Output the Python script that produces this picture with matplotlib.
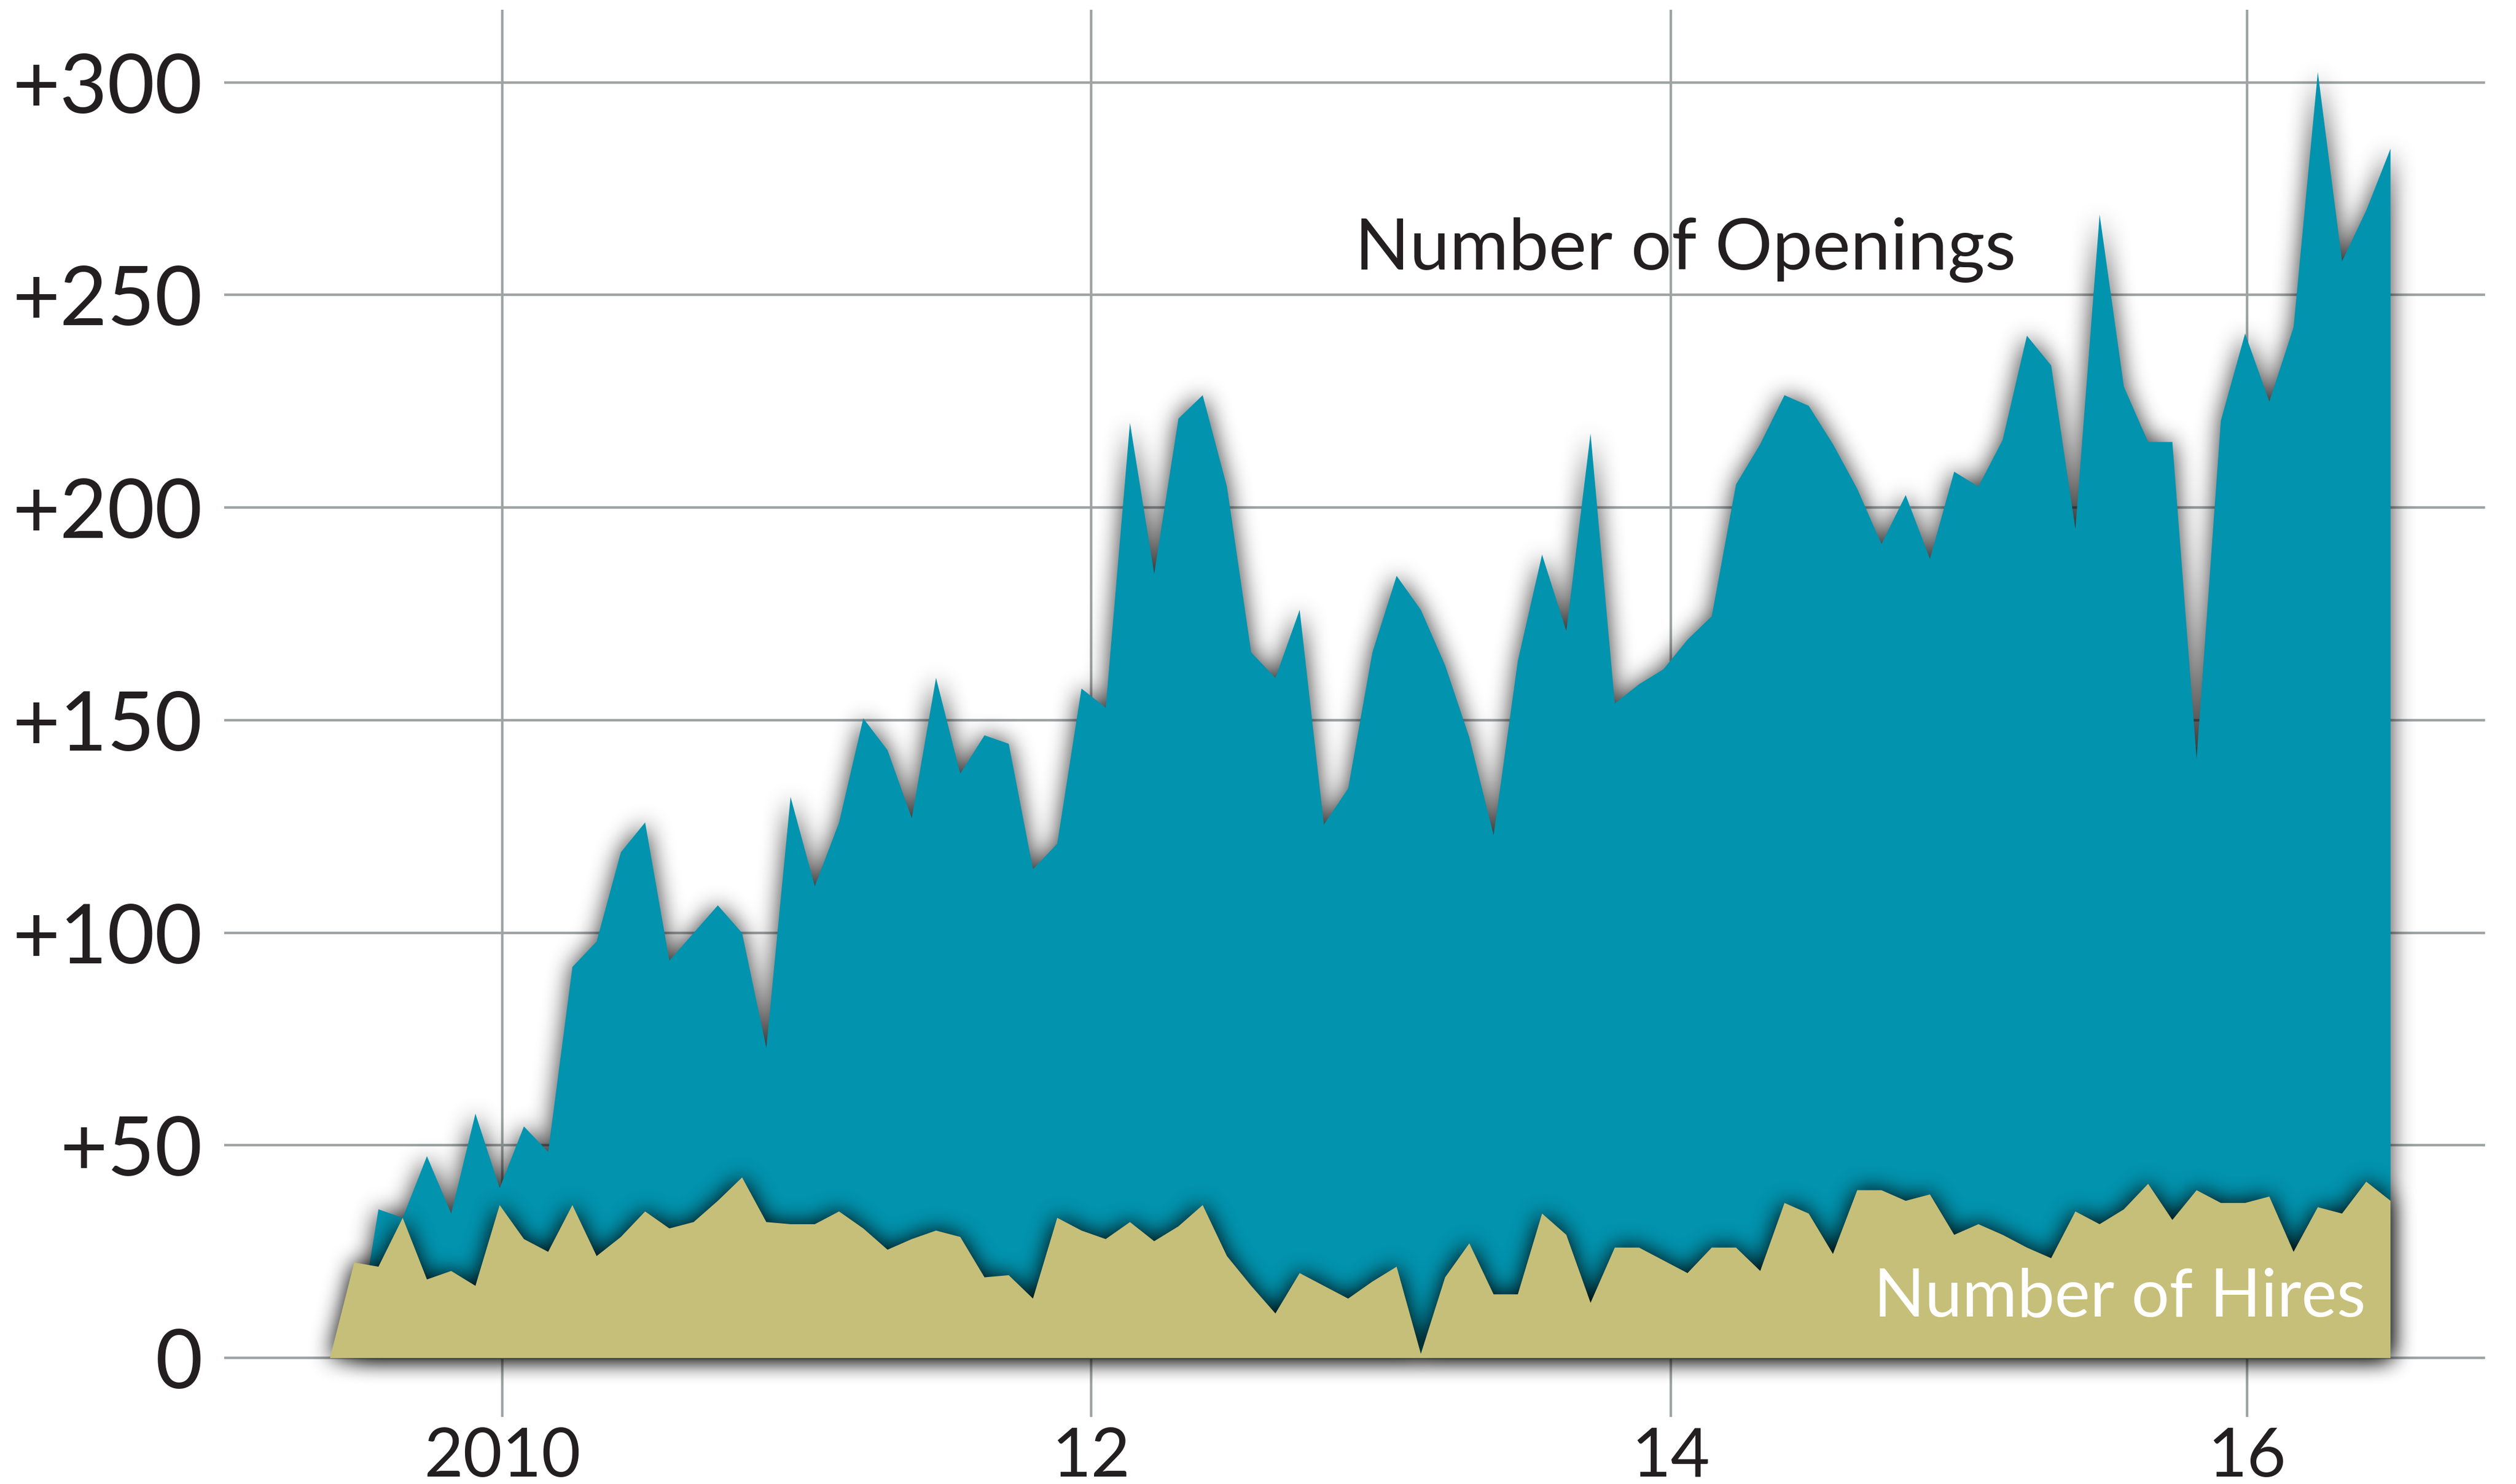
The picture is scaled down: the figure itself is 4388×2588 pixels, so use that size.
import numpy as np
import matplotlib
matplotlib.use("Agg")
import matplotlib.pyplot as plt

# ---------------- data (monthly, starting June 2009) ----------------
openings = [0, 0, 35, 33, 47.5, 34, 57.5, 40, 54.5, 48.5,
            92, 98, 119, 126, 93.5, 100, 106.5, 100, 73, 132,
            111, 126, 150.5, 143, 127, 160, 137.5, 146.5, 144.5, 115,
            121, 157.5, 153, 220, 184.5, 221, 226.5, 205, 166, 160,
            176, 125.5, 134, 166, 184, 176, 163, 146, 123, 164,
            189, 171, 217.5, 154, 158.5, 162, 169, 174.5, 205.5, 215,
            226.5, 224, 215, 204.5, 191.5, 203, 188, 208.5, 205, 216,
            240.5, 233.5, 195, 269, 228.5, 215.5, 215.5, 141, 220.5, 241,
            225, 242.5, 302.5, 258, 270, 284.5]
hires = [0, 22.5, 21.5, 33, 18.5, 20.5, 17, 36, 28, 25,
         36, 24, 28.5, 34.5, 30.5, 32, 37, 42.5, 32, 31.5,
         31.5, 34.5, 30.5, 25.5, 28, 30, 28.5, 19, 19.5, 14,
         33, 30, 28, 32, 27.5, 31, 36, 24, 17, 10.5,
         20, 17, 14, 18, 21.5, 1, 19, 27, 15, 15,
         34, 29, 13, 26, 26, 23, 20, 26, 26, 20.5,
         36.5, 34, 24.5, 39.5, 39.5, 37, 38.5, 29, 31.5, 29,
         26, 23.5, 34.5, 31.5, 35, 41, 32.5, 39.5, 36.5, 36.5,
         38, 25, 35.5, 34, 41.5, 37]
months = np.arange(len(openings))

xtick_pos = [7.12, 31.41, 55.33, 79.09]
xtick_labels = ["2010", "12", "14", "16"]
ytick_vals = [0, 50, 100, 150, 200, 250, 300]
ytick_labels = ["0", "+50", "+100", "+150", "+200", "+250", "+300"]

label_openings = "Number of Openings"
label_hires = "Number of Hires"

# ---------------- layout / style ----------------
W, H, DPI = 4388, 2588, 100
AX_RECT = [391 / W, 1 - 2471 / H, 3943 / W, 2454 / H]
XLIM = (-4.352, 88.91)
YLIM = (-13.9, 317.1)

TEAL = "#0293ae"
KHAKI = "#c6bf79"
GRID = "#9ea3a4"
TEXT = "#231f20"
FONT = ["Lato", "DejaVu Sans"]

plt.rcParams["font.family"] = FONT


def render_mask(y):
    f = plt.figure(figsize=(W / DPI, H / DPI), dpi=DPI)
    a = f.add_axes(AX_RECT)
    a.set_xlim(XLIM)
    a.set_ylim(YLIM)
    a.axis("off")
    a.fill_between(months, 0, y, color="black", lw=0)
    f.canvas.draw()
    buf = np.asarray(f.canvas.buffer_rgba())[..., 0].astype(float)
    bb = a.get_window_extent()
    plt.close(f)
    return 1.0 - buf / 255.0, bb


def box_1d(a, r, axis):
    pad = [(0, 0)] * a.ndim
    pad[axis] = (r + 1, r)
    p = np.pad(a, pad, mode="constant")
    c = np.cumsum(p, axis=axis)
    n = a.shape[axis]
    hi = np.take(c, np.arange(2 * r + 1, 2 * r + 1 + n), axis=axis)
    lo = np.take(c, np.arange(0, n), axis=axis)
    return (hi - lo) / (2 * r + 1)


def blur(m, r):
    for _ in range(3):
        m = box_1d(m, r, 0)
        m = box_1d(m, r, 1)
    return m


def shadow_rgba(y, strength, r):
    m, bb = render_mask(y)
    m = blur(m, r)
    r0 = int(round(H - bb.y1)); r1 = int(round(H - bb.y0))
    c0 = int(round(bb.x0)); c1 = int(round(bb.x1))
    m = m[r0:r1, c0:c1]
    img = np.zeros(m.shape + (4,))
    img[..., 3] = np.clip(m * strength, 0, 1)
    return img


fig = plt.figure(figsize=(W / DPI, H / DPI), dpi=DPI)
ax = fig.add_axes(AX_RECT)
ax.set_xlim(XLIM)
ax.set_ylim(YLIM)

for s in ax.spines.values():
    s.set_visible(False)

ax.set_xticks(xtick_pos, xtick_labels)
ax.set_yticks(ytick_vals, ytick_labels)
ax.tick_params(axis="both", length=0, colors=TEXT)
ax.tick_params(axis="y", labelsize=103, pad=27)
ax.tick_params(axis="x", labelsize=85, pad=12)
ax.set_axisbelow(True)
ax.grid(True, color=GRID, linewidth=3.2)

ext = (XLIM[0], XLIM[1], YLIM[0], YLIM[1])

# openings shadow + fill
ax.imshow(shadow_rgba(openings, 0.8, 19), extent=ext, origin="upper",
          aspect="auto", interpolation="none", zorder=1)
ax.fill_between(months, 0, openings, color=TEAL, lw=0, zorder=2)

# hires shadow + fill
ax.imshow(shadow_rgba(hires, 1.0, 18), extent=ext, origin="upper",
          aspect="auto", interpolation="none", zorder=3)
ax.fill_between(months, 0, hires, color=KHAKI, lw=0, zorder=4)

ax.text(42.3, 256.0, label_openings, fontsize=90, color=TEXT,
        ha="left", va="baseline", zorder=5)
ax.text(63.7, 9.7, label_hires, fontsize=84, color="white",
        ha="left", va="baseline", zorder=5)

fig.savefig("out.png", dpi=DPI, facecolor="white")
